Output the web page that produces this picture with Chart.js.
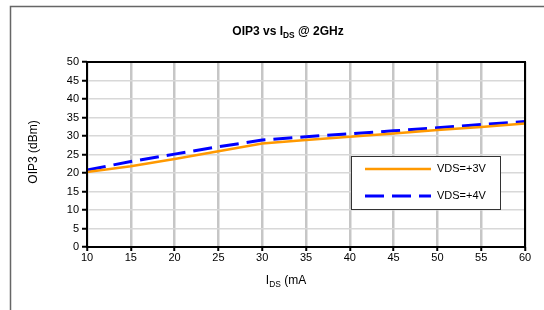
<!DOCTYPE html>
<html>
<head>
<meta charset="utf-8">
<script src="https://cdn.jsdelivr.net/npm/chart.js@4.4.0/dist/chart.umd.min.js"></script>
<style>
  html, body { margin: 0; padding: 0; background: #fff; }
  #wrap { width: 544px; height: 310px; position: relative; }
</style>
</head>
<body>
<div id="wrap"><canvas id="oip3"></canvas></div>
<script>
// OIP3 vs IDS @ 2GHz
var idsValues = [10, 15, 20, 25, 30, 35, 40, 45, 50, 55, 60];
var oip3Vds3 = [20.3, 21.8, 23.8, 25.9, 28.0, 28.9, 29.8, 30.7, 31.6, 32.4, 33.4];
var oip3Vds4 = [20.8, 23.1, 25.1, 27.1, 28.9, 29.8, 30.6, 31.4, 32.2, 33.1, 33.9];
var seriesLabels = ['VDS=+3V', 'VDS=+4V'];

var FONT = "'Liberation Sans', Arial, sans-serif";

function toPoints(xs, ys) {
  return xs.map(function(x, i) { return { x: x, y: ys[i] }; });
}

// text with a subscript piece, centred at cx
function drawSubText(ctx, parts, cx, cy, size, bold) {
  var w = 0;
  parts.forEach(function(p) {
    ctx.font = (bold ? 'bold ' : '') + (p.sub ? size * 0.7 : size) + 'px ' + FONT;
    p.w = ctx.measureText(p.t).width;
    w += p.w;
  });
  var x = cx - w / 2;
  ctx.textAlign = 'left';
  ctx.textBaseline = 'middle';
  parts.forEach(function(p) {
    ctx.font = (bold ? 'bold ' : '') + (p.sub ? size * 0.7 : size) + 'px ' + FONT;
    ctx.fillText(p.t, x, p.sub ? cy + size * 0.3 : cy);
    x += p.w;
  });
}

var decorPlugin = {
  id: 'decor',
  beforeDraw: function(chart) {
    var ctx = chart.ctx;
    ctx.save();
    ctx.fillStyle = '#fff';
    ctx.fillRect(0, 0, chart.width, chart.height);
    ctx.strokeStyle = '#666';
    ctx.lineWidth = 1.5;
    ctx.beginPath();
    ctx.moveTo(10.5, chart.height);
    ctx.lineTo(10.5, 6.5);
    ctx.lineTo(chart.width, 6.5);
    ctx.stroke();
    ctx.restore();
  },
  afterDraw: function(chart) {
    var ctx = chart.ctx;
    var a = chart.chartArea;
    ctx.save();
    // plot frame
    ctx.strokeStyle = '#000';
    ctx.lineWidth = 2;
    ctx.strokeRect(a.left, a.top, a.right - a.left, a.bottom - a.top);

    ctx.fillStyle = '#000';
    drawSubText(ctx, [{ t: 'OIP3 vs I' }, { t: 'DS', sub: true }, { t: ' @ 2GHz' }], 288, 32, 12, true);
    drawSubText(ctx, [{ t: 'I' }, { t: 'DS', sub: true }, { t: ' (mA' }], 286, 281, 12, false);

    ctx.translate(34, 152);
    ctx.rotate(-Math.PI / 2);
    ctx.font = '12px ' + FONT;
    ctx.textAlign = 'center';
    ctx.textBaseline = 'middle';
    ctx.fillText('OIP3 (dBm)', 0, 0);
    ctx.restore();

    // legend box
    ctx.save();
    var lx = 351, ly = 156, lw = 149, lh = 53;
    ctx.fillStyle = '#fff';
    ctx.fillRect(lx, ly, lw, lh);
    ctx.strokeStyle = '#333';
    ctx.lineWidth = 1;
    ctx.strokeRect(lx + 0.5, ly + 0.5, lw, lh);
    var ds = chart.data.datasets;
    [169, 196].forEach(function(y, i) {
      ctx.strokeStyle = ds[i].borderColor;
      ctx.lineWidth = ds[i].borderWidth;
      ctx.setLineDash(ds[i].borderDash || []);
      ctx.beginPath();
      ctx.moveTo(365, y);
      ctx.lineTo(431, y);
      ctx.stroke();
      ctx.setLineDash([]);
      ctx.fillStyle = '#000';
      ctx.font = '11px ' + FONT;
      ctx.textAlign = 'left';
      ctx.textBaseline = 'middle';
      ctx.fillText(seriesLabels[i], 437, y);
    });
    ctx.restore();
  }
};

var chart = new Chart(document.getElementById('oip3'), {
  type: 'line',
  data: {
    datasets: [{
      label: seriesLabels[0],
      data: toPoints(idsValues, oip3Vds3),
      borderColor: '#ff9900',
      borderWidth: 2.5,
      pointRadius: 0,
      tension: 0,
      fill: false
    }, {
      label: seriesLabels[1],
      data: toPoints(idsValues, oip3Vds4),
      borderColor: '#0000ff',
      borderWidth: 3,
      borderDash: [19, 8],
      pointRadius: 0,
      tension: 0,
      fill: false
    }]
  },
  options: {
    responsive: true,
    maintainAspectRatio: false,
    animation: false,
    layout: { padding: { left: 0, top: 62, right: 19, bottom: 0 } },
    scales: {
      x: {
        type: 'linear',
        min: 10, max: 60,
        border: { display: false },
        ticks: { stepSize: 5, color: '#000', padding: 0, font: { family: FONT, size: 11 }, maxRotation: 0 },
        grid: { color: '#c6c6c6', lineWidth: 2.5, tickColor: '#000', tickLength: 4, tickWidth: 2 },
        afterFit: function(s) { s.height = 63; }
      },
      y: {
        min: 0, max: 50,
        border: { display: false },
        ticks: { stepSize: 5, color: '#000', padding: 3, font: { family: FONT, size: 11 } },
        grid: { color: '#d8d8d8', lineWidth: 1.5, tickColor: '#000', tickLength: 5, tickWidth: 2 },
        afterFit: function(s) { s.width = 87; }
      }
    },
    plugins: {
      legend: { display: false },
      title: { display: false },
      tooltip: { enabled: false }
    }
  },
  plugins: [decorPlugin]
});
</script>
</body>
</html>
